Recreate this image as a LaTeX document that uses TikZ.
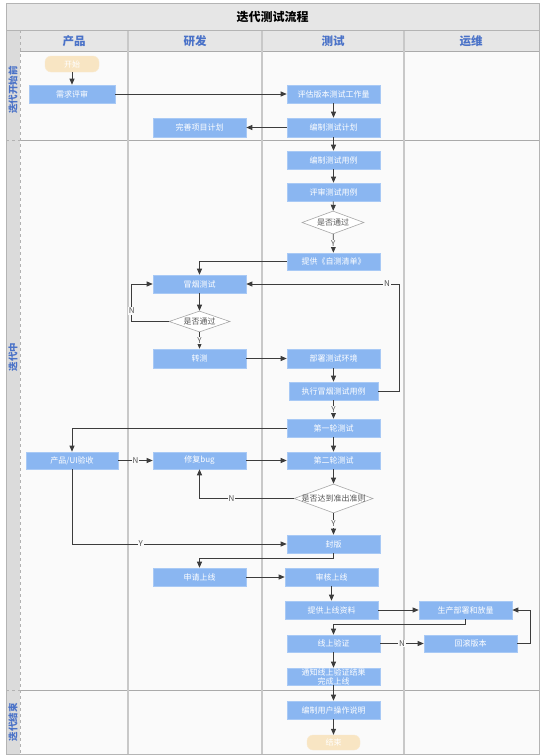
\documentclass[tikz,border=0pt]{standalone}
\usepackage{fontspec}
\setmainfont{Noto Sans CJK SC}
\usetikzlibrary{shapes.geometric,arrows.meta,calc}
\definecolor{boxfill}{HTML}{8AB6F1}
\definecolor{boxline}{HTML}{A8C9F5}
\definecolor{termfill}{HTML}{F8E5C3}
\definecolor{hdrblue}{HTML}{4A72C8}
\definecolor{bandgray}{HTML}{E6E6E6}
\definecolor{sepgray}{HTML}{C8C8C8}
\definecolor{bodybg}{HTML}{FAFAFA}
\definecolor{linegray}{HTML}{3C3C3C}
\definecolor{labgray}{HTML}{555555}
\newcommand\myfs[1]{\fontsize{#1}{#1}\selectfont}
\begin{document}
\begin{tikzpicture}[x=1pt,y=-1pt,
  box/.style={rectangle, draw=boxline, line width=0.6pt, fill=boxfill, text=white,
    inner sep=0pt, minimum width=93pt, minimum height=18pt, font=\myfs{8}, align=center},
  term/.style={rectangle, rounded corners=6pt, draw=termfill!80!white, fill=termfill, text=white,
    inner sep=0pt, minimum width=54pt, minimum height=16pt, font=\myfs{8}},
  dia/.style={diamond, draw=gray!70, line width=0.6pt, fill=white, inner sep=0pt,
    label={[font=\myfs{8}, text=labgray, inner sep=0pt]center:#1}},
  arr/.style={draw=linegray, line width=0.75pt, -{Triangle[length=6pt,width=5pt]}},
  lbl/.style={fill=bodybg, text=labgray, font=\myfs{8}, inner sep=1pt},
  hdr/.style={text=hdrblue, font=\bfseries\myfs{11.5}},
  lanelbl/.style={text=hdrblue, font=\bfseries\myfs{9.5}, rotate=90}
]
\useasboundingbox (0,0) rectangle (545,755);
% background
\fill[bodybg] (6,3) rectangle (539,754);
\fill[bandgray] (6,3) rectangle (539,30);
\fill[bandgray] (20,30) rectangle (539,51);
\fill[bandgray!95!black] (6,30) rectangle (20,754);
% lane horizontal separators
\draw[sepgray!85!black, line width=0.8pt] (20,51) -- (539,51);
\draw[sepgray!85!black, line width=0.8pt] (20,140) -- (539,140);
\draw[sepgray!85!black, line width=0.8pt] (20,690) -- (539,690);
\draw[gray!60, dashed, line width=0.6pt] (6,140) -- (20,140);
\draw[gray!60, dashed, line width=0.6pt] (6,690) -- (20,690);
\draw[gray!60, dashed, line width=0.6pt] (6,30) -- (6,754);
\draw[gray!60, dashed, line width=0.6pt] (20,30) -- (20,754);
% column separators
\foreach \xx in {128,262,404} \draw[sepgray, line width=1.4pt] (\xx,30) -- (\xx,754);
\draw[sepgray!90!black, line width=0.8pt] (6,30) -- (539,30);
\draw[sepgray!90!black, line width=1pt] (6,3) rectangle (539,754);
% titles
\node[font=\bfseries\myfs{12}, text=black] (title) at (272.5,17) {迭代测试流程};
\node[hdr] (hp) at (74,41) {产品};
\node[hdr] (hd) at (195,41) {研发};
\node[hdr] (ht) at (333,41) {测试};
\node[hdr] (ho) at (471,41) {运维};
\node[lanelbl] (l1) at (13,90) {迭代开始前};
\node[lanelbl] (l2) at (13,357) {迭代中};
\node[lanelbl] (l3) at (13,722) {迭代结束};
% nodes
\node[term] (start) at (72,64) {开始};
\node[box, minimum width=86pt] (xqps) at (72,94) {需求评审};
\node[box] (pg) at (333.5,94) {评估版本测试工作量};
\node[box, minimum height=19pt] (bzjh) at (333.5,127.5) {编制测试计划};
\node[box, minimum height=19pt] (wsjh) at (199.5,127.5) {完善项目计划};
\node[box] (bzyl) at (333.5,160) {编制测试用例};
\node[box] (psyl) at (333.5,192) {评审测试用例};
\node[dia={是否通过}, minimum width=62pt, minimum height=23pt] (d1) at (333,222.5) {};
\node[box, minimum height=17pt] (zcqd) at (333.5,261.5) {提供《自测清单》};
\node[box] (my) at (199.5,284) {冒烟测试};
\node[dia={是否通过}, minimum width=61pt, minimum height=21pt] (d2) at (199.5,321.5) {};
\node[box, minimum height=19pt] (zc) at (199.5,358.5) {转测};
\node[box, minimum height=19pt] (bs) at (333.5,358.5) {部署测试环境};
\node[box, minimum width=89pt] (zx) at (333.5,391) {执行冒烟测试用例};
\node[box] (r1) at (333.5,428) {第一轮测试};
\node[box, minimum width=92pt, minimum height=17pt] (ui) at (72,460.5) {产品/UI验收};
\node[box, minimum height=17pt] (fix) at (199.5,460.5) {修复bug};
\node[box, minimum height=17pt] (r2) at (333.5,460.5) {第二轮测试};
\node[dia={是否达到准出准则}, minimum width=79pt, minimum height=29pt] (d3) at (333.5,498.5) {};
\node[box] (fb) at (333.5,544) {封版};
\node[box] (sq) at (199.5,577) {申请上线};
\node[box] (sh) at (331.5,577) {审核上线};
\node[box] (tg) at (331.5,610) {提供上线资料};
\node[box] (sc) at (465.5,610) {生产部署和放量};
\node[box, minimum height=17pt] (xy) at (333.5,643.5) {线上验证};
\node[box, minimum height=17pt] (hg) at (470.5,643.5) {回滚版本};
\node[box, minimum height=17pt, font=\fontsize{8}{9}\selectfont] (tz) at (333.5,676.5) {通知线上验证结果\\完成上线};
\node[box] (yh) at (333.5,710) {编制用户操作说明};
\node[term, minimum width=53pt, minimum height=15pt] (end) at (333.5,742.5) {结束};
% connectors
\draw[arr] (start) -- (xqps);
\draw[arr] (xqps) -- (pg);
\draw[arr] (pg) -- (bzjh);
\draw[arr, line width=1.1pt] (bzjh) -- (wsjh);
\draw[arr] (bzjh) -- (bzyl);
\draw[arr] (bzyl) -- (psyl);
\draw[arr] (psyl) -- (d1);
\draw[arr] (d1) -- node[lbl] {Y} (zcqd);
\draw[arr] (zcqd.west) -| (my.north);
\draw[arr] (my) -- (d2);
\draw[arr] (d2.west) -- ++(-37,0) |- node[lbl, pos=0.14] {N} (my.west);
\draw[arr] (d2) -- node[lbl] {Y} (zc);
\draw[arr] (zc) -- (bs);
\draw[arr] (bs) -- (zx);
\draw[arr] (zx.east) -- ++(21,0) |- node[lbl, pos=0.54] {N} (my.east);
\draw[arr] (zx) -- node[lbl] {Y} (r1);
\draw[arr] (r1.west) -| (ui.north);
\draw[arr] (r1) -- (r2);
\draw[arr] (ui) -- node[lbl] {N} (fix);
\draw[arr] (fix) -- (r2);
\draw[arr] (r2) -- (d3);
\draw[arr] (d3.west) -| node[lbl, pos=0.33] {N} (fix.south);
\draw[arr] (d3) -- node[lbl] {Y} (fb);
\draw[arr] (ui.south) |- node[lbl, pos=0.66] {Y} (fb.west);
\draw[arr] (fb.south) -- ++(0,5) -| (sq.north);
\draw[arr] (sq) -- (sh);
\draw[arr] (sh) -- (tg);
\draw[arr] (tg) -- (sc);
\draw[arr] (sc.south) -- ++(0,5) -| (xy.north);
\draw[arr] (xy) -- node[lbl] {N} (hg);
\draw[arr] (hg.east) -- ++(13,0) |- (sc.east);
\draw[arr] (xy) -- (tz);
\draw[arr] (tz) -- (yh);
\draw[arr] (yh) -- (end);
\end{tikzpicture}
\end{document}
